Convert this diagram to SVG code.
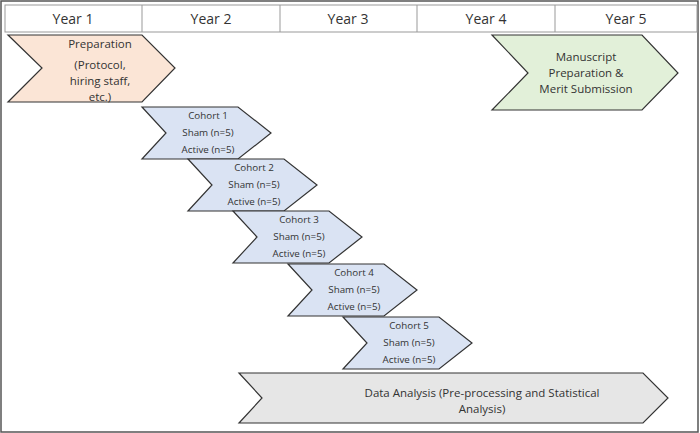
<svg xmlns="http://www.w3.org/2000/svg" width="700" height="433" viewBox="0 0 700 433">
<style>
text{font-family:"Open Sans","Liberation Sans",sans-serif;fill:#333;text-anchor:middle}
.h{font-size:14px}
.c{font-size:9.8px}
.p{font-size:11.5px}
polygon{stroke:#333;stroke-width:1.2}
</style>
<rect x="1" y="1" width="697" height="431" fill="#fff" stroke="#555" stroke-width="1.5"/>
<g id="header" fill="none" stroke="#999">
<rect x="5" y="5" width="692" height="27" fill="#fff"/>
<line x1="142" y1="5" x2="142" y2="32"/><line x1="280" y1="5" x2="280" y2="32"/><line x1="417" y1="5" x2="417" y2="32"/><line x1="555" y1="5" x2="555" y2="32"/>
</g>
<g id="years">
<text class="h" x="73" y="24">Year 1</text><text class="h" x="211" y="24">Year 2</text><text class="h" x="348" y="24">Year 3</text><text class="h" x="486" y="24">Year 4</text><text class="h" x="626" y="24">Year 5</text>
</g>
<g id="prep"><polygon points="8,35 142,35 175,68 142,102 8,102 42,68" fill="#fbe5d6"/>
<text class="p" x="100" y="48">Preparation</text><text class="p" x="100" y="69">(Protocol,</text><text class="p" x="100" y="85">hiring staff,</text><text class="p" x="100" y="101">etc.)</text></g>
<g id="manuscript"><polygon points="492,35 642,35 678,73 642,110 492,110 528,73" fill="#e2f0d9"/>
<text class="p" x="586" y="61">Manuscript</text><text class="p" x="586" y="77">Preparation &amp;</text><text class="p" x="586" y="93">Merit Submission</text></g>
<g id="cohort1" transform="translate(142,107)"><polygon points="0,0 96,0 129,26 96,52 0,52 24,26" fill="#dae3f3"/><text class="c" x="66" y="12">Cohort 1</text><text class="c" x="66" y="29">Sham (n=5)</text><text class="c" x="66" y="46">Active (n=5)</text></g>
<g id="cohort2" transform="translate(188,159)"><polygon points="0,0 96,0 129,26 96,52 0,52 24,26" fill="#dae3f3"/><text class="c" x="66" y="12">Cohort 2</text><text class="c" x="66" y="29">Sham (n=5)</text><text class="c" x="66" y="46">Active (n=5)</text></g>
<g id="cohort3" transform="translate(233,211)"><polygon points="0,0 96,0 129,26 96,52 0,52 24,26" fill="#dae3f3"/><text class="c" x="66" y="12">Cohort 3</text><text class="c" x="66" y="29">Sham (n=5)</text><text class="c" x="66" y="46">Active (n=5)</text></g>
<g id="cohort4" transform="translate(288,264)"><polygon points="0,0 96,0 129,26 96,52 0,52 24,26" fill="#dae3f3"/><text class="c" x="66" y="12">Cohort 4</text><text class="c" x="66" y="29">Sham (n=5)</text><text class="c" x="66" y="46">Active (n=5)</text></g>
<g id="cohort5" transform="translate(343,317)"><polygon points="0,0 96,0 129,26 96,52 0,52 24,26" fill="#dae3f3"/><text class="c" x="66" y="12">Cohort 5</text><text class="c" x="66" y="29">Sham (n=5)</text><text class="c" x="66" y="46">Active (n=5)</text></g>
<g id="analysis"><polygon points="239,373 643,373 668,398 643,423 239,423 262,398" fill="#e6e6e6"/>
<text class="p" x="482" y="397">Data Analysis (Pre-processing and Statistical</text><text class="p" x="482" y="413">Analysis)</text></g>
<g id="connectors"/>
</svg>
